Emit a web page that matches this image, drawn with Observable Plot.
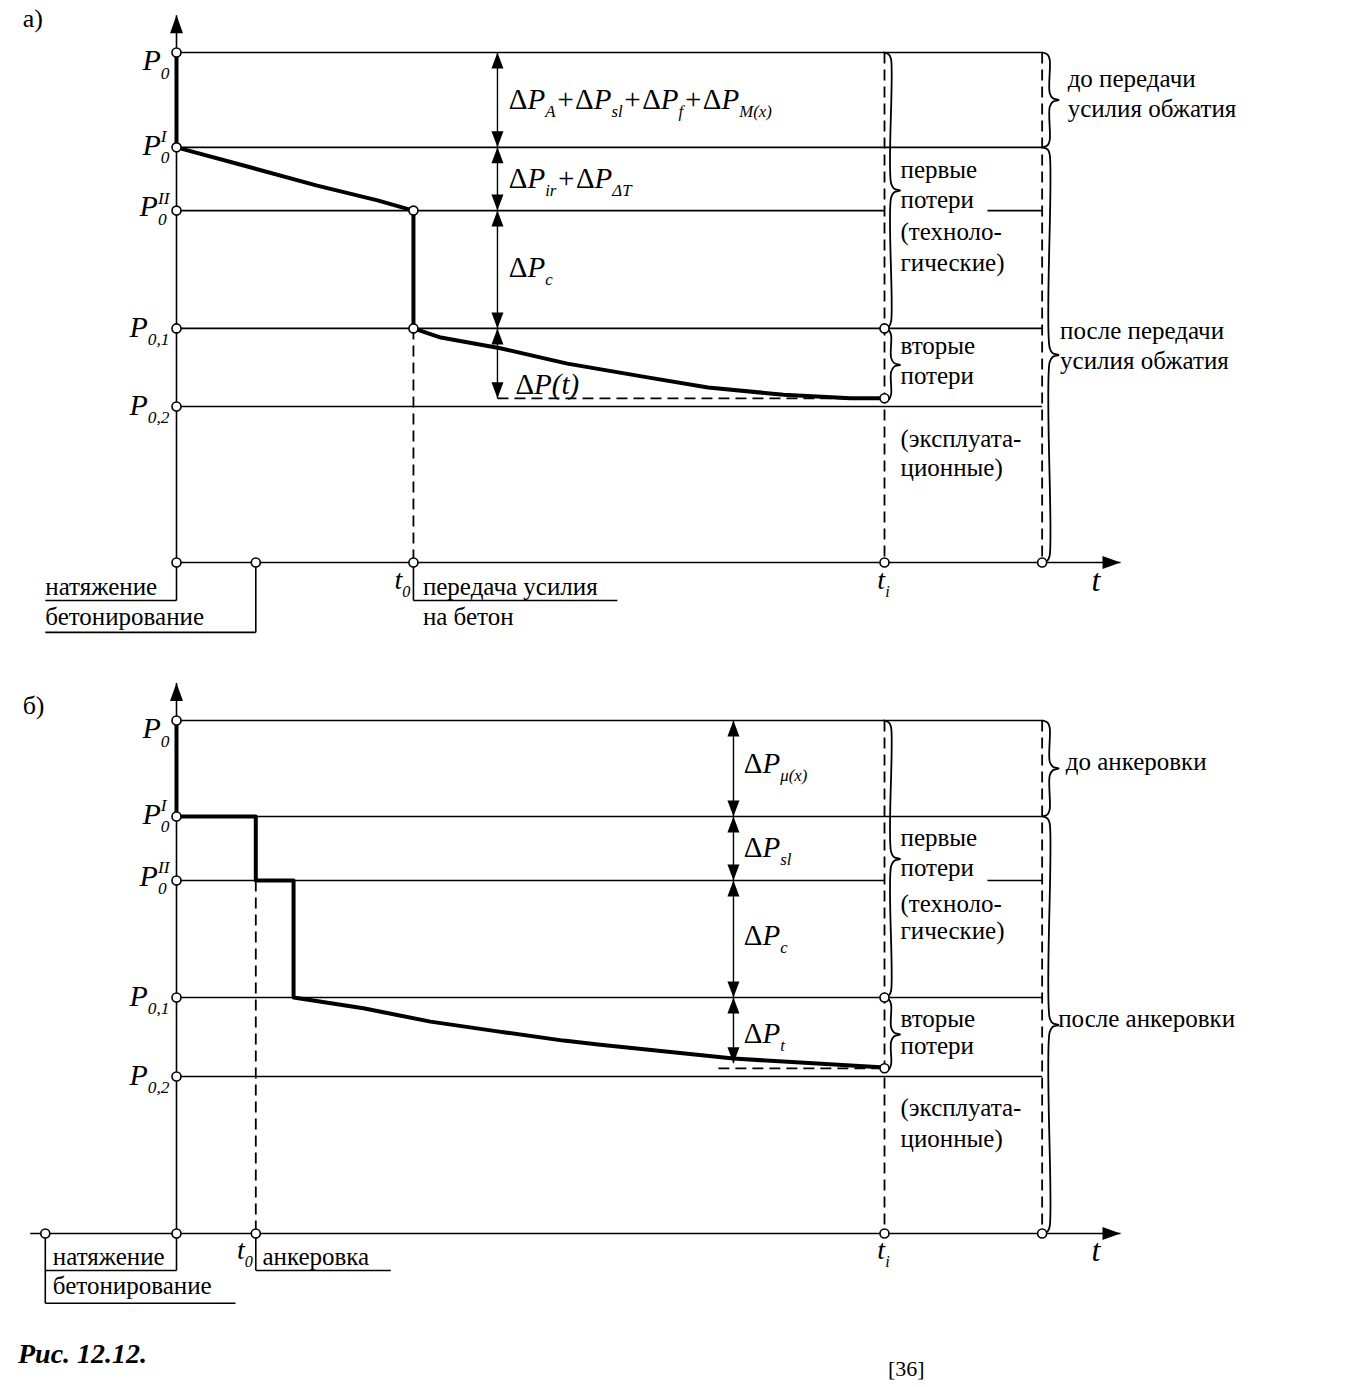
<!DOCTYPE html>
<html lang="ru">
<head>
<meta charset="utf-8">
<script src="https://cdn.jsdelivr.net/npm/d3@7"></script>
<script src="https://cdn.jsdelivr.net/npm/@observablehq/plot@0.6"></script>
<style>
  html,body{margin:0;padding:0;background:#fff;}
  #page{position:relative;width:1352px;height:1387px;overflow:hidden;background:#fff;font-family:"Liberation Serif","Times New Roman",serif;color:#000;}
  #panelA{position:absolute;left:0;top:0;}
  #panelB{position:absolute;left:0;top:650px;}
  #caption{position:absolute;left:18px;top:1338px;font-size:28px;font-weight:bold;font-style:italic;line-height:32px;}
  #source{position:absolute;left:888px;top:1356px;font-size:22px;line-height:26px;}
</style>
</head>
<body>
<div id="page">
  <div id="panelA"></div>
  <div id="panelB"></div>
  <div id="caption">Рис. 12.12.</div>
  <div id="source">[36]</div>
</div>
<script>
// ================= DATA =================
// time in arbitrary units (tensioning = 0, tip of the t-arrow = 100); force in % of P0
const levelLabels = ["P_{0}", "P_{0}^{I}", "P_{0}^{II}", "P_{0,1}", "P_{0,2}"];
const levelsA = [100, 81.4, 69.0, 45.9, 30.6];
const levelsB = [100, 81.3, 68.8, 46.0, 30.6];
const levelLabelYA = [98.4, 81.8, 69.8, 46.1, 30.8];
const levelLabelYB = [98.4, 81.7, 69.6, 46.2, 30.8];
const finalA = 32.2, finalB = 32.2;          // P at t_i

// events on the time axis
const t_i = 75, t_end = 91.7, t_arrow = 100;
const eventsA_t = [0, 8.4, 25.1];            // натяжение, бетонирование, t0 (передача усилия)
const eventsB_t = [-13.9, 0, 8.4];           // бетонирование, натяжение, t0 (анкеровка)
const tB_drop = 12.4;

// prestress curves
const curveA_t = [0, 0, 7.8, 14.9, 21.3, 25.1, 25.1, 28.0, 34.3, 41.4, 49.9, 56.3, 64.3, 71.4, 75.0];
const curveA_P = [100, 81.4, 77.5, 73.9, 71.0, 69.0, 45.9, 44.1, 42.0, 39.0, 36.3, 34.3, 32.9, 32.2, 32.2];
const curveB_t = [0, 0, 8.4, 8.4, 12.4, 12.4, 19.8, 26.9, 34.0, 41.0, 44.9, 59.0, 74.6, 75.0];
const curveB_P = [100, 81.3, 81.3, 68.8, 68.8, 46.0, 43.9, 41.3, 39.4, 37.6, 36.8, 34.1, 32.4, 32.2];

// loss dimension lines
const dimTimeA = 34.0, dimTimeB = 59.0;
const dimEndA = [100, 81.4, 69.0, 45.9, 32.2];
const dimEndB = [100, 81.3, 68.8, 46.0, 33.2];
const lossLabelsA = ["ΔP_{A}+ΔP_{sl}+ΔP_{f}+ΔP_{M(x)}", "ΔP_{ir}+ΔP_{ΔT}", "ΔP_{c}", "ΔP(t)"];
const lossLabelsB = ["ΔP_{μ(x)}", "ΔP_{sl}", "ΔP_{c}", "ΔP_{t}"];
const lossLabelYA = [90.8, 75.3, 57.8, 34.9];
const lossLabelYB = [91.6, 75.2, 58.1, 39.0];
const lossLabelTA = [35.2, 35.2, 35.2, 35.9];
const lossLabelTB = [60.1, 60.1, 60.1, 60.1];

// group texts
const groupText = ["первые","потери","(техноло-","гические)","вторые","потери","(эксплуата-","ционные)"];
const groupYA = [76.9, 71.0, 64.9, 58.8, 42.4, 36.5, 24.3, 18.6];
const groupYB = [77.0, 71.2, 64.3, 58.9, 41.9, 36.5, 24.4, 18.5];
const groupT = 76.7;
const stageTextA = ["до передачи","усилия обжатия","после передачи","усилия обжатия"];
const stageYA = [94.9, 89.0, 45.3, 39.6];
const stageTA = [94.4, 94.4, 93.6, 93.6];
const stageTextB = ["до анкеровки","после анкеровки"];
const stageYB = [92.0, 41.9];
const stageTB = [94.2, 93.4];

// event texts under the axis
const eventTextA = ["натяжение","бетонирование","передача усилия","на бетон"];
const eventTextTA = [-13.9, -13.9, 26.1, 26.1];
const eventTextYA = [-4.9, -10.6, -4.9, -10.6];
const eventTextB = ["натяжение","бетонирование","анкеровка"];
const eventTextTB = [-13.1, -13.1, 9.1];
const eventTextYB = [-4.5, -10.3, -4.5];

// leader boxes under the axis [t1, P1, t2, P2]
const boxesA = [[0,0,0,-7.45],[-13.9,-7.45,0,-7.45],[8.4,0,8.4,-13.7],[-13.9,-13.7,8.4,-13.7],[25.1,0,25.1,-7.45],[25.1,-7.45,46.7,-7.45]];
const boxesB = [[-13.9,0,-13.9,-13.6],[-13.9,-13.6,6.25,-13.6],[0,0,0,-7.2],[-13.9,-7.2,0,-7.2],[8.4,0,8.4,-7.2],[8.4,-7.2,22.7,-7.2]];

// ================= DRAWING =================
const FONT = "Liberation Serif";
const kx = 9.44; // px per time unit (for the size of brace curls only)
const arrowHead = {draw(ctx){ctx.moveTo(0,0);ctx.lineTo(-6,16);ctx.lineTo(6,16);ctx.closePath();}};
const axisHead = {draw(ctx){ctx.moveTo(0,0);ctx.lineTo(-6.5,18);ctx.lineTo(6.5,18);ctx.closePath();}};

function bracePts(bx, top, bot, id, ky){
  const cy = 7/ky, e = 7/kx, w = 9/kx, mid = (top+bot)/2;
  return [[bx-e,top],[bx-0.3*e,top-0.3*cy],[bx,top-cy],[bx,mid+cy],[bx+0.35*w,mid+0.25*cy],[bx+w,mid],
          [bx+0.35*w,mid-0.25*cy],[bx,mid-cy],[bx,bot+cy],[bx-0.3*e,bot+0.3*cy],[bx-e,bot]]
    .map(([t,P]) => ({t, P, id}));
}

function buildPanel(o){
  const L = o.levels;
  const segs = [];
  L.forEach((P,i) => {
    if (i === 2) { segs.push({x1:0,y1:P,x2:t_i,y2:P},{x1:85.9,y1:P,x2:t_end,y2:P}); }
    else segs.push({x1:0,y1:P,x2:t_end,y2:P});
  });
  segs.push({x1:0,y1:0,x2:0,y2:107.3});
  segs.push({x1:o.axisStart,y1:0,x2:t_arrow,y2:0});
  o.boxes.forEach(b => segs.push({x1:b[0],y1:b[1],x2:b[2],y2:b[3]}));
  const dashed = [
    {x1:t_i,y1:100,x2:t_i,y2:0},
    {x1:t_end,y1:100,x2:t_end,y2:0},
    {x1:o.t0,y1:o.t0Top,x2:o.t0,y2:0},
    {x1:o.dashStart,y1:o.fin,x2:t_i,y2:o.fin}
  ];
  const dims = o.dimEnd.slice(0,-1).map((P,i) => ({x1:o.dimT,y1:P,x2:o.dimT,y2:o.dimEnd[i+1]}));
  const headsUp = o.dimEnd.slice(0,-1).map(P => ({t:o.dimT,P}));
  const headsDown = o.dimEnd.slice(1).map(P => ({t:o.dimT,P}));
  const curve = o.curveT.map((t,i) => ({t, P:o.curveP[i]}));
  const braces = [
    ...bracePts(75.7, L[0], L[3], "b1", o.ky),
    ...bracePts(75.7, L[3], o.fin - 0.6, "b2", o.ky),
    ...bracePts(92.5, L[0], L[1], "b3", o.ky),
    ...bracePts(92.5, L[1], 0, "b4", o.ky)
  ];
  const levelText = L.map((P,i) => ({t:0, P:o.levelLabelY[i], s:levelLabels[i]}));
  const lossText = o.lossLabels.map((s,i) => ({s, t:o.lossT[i], P:o.lossY[i]}));
  const groupTxt = groupText.map((s,i) => ({s, t:groupT, P:o.groupY[i]}));
  const stageTxt = o.stageText.map((s,i) => ({s, t:o.stageT[i], P:o.stageY[i]}));
  const eventTxt = o.eventText.map((s,i) => ({s, t:o.eventT[i], P:o.eventY[i]}));

  return Plot.plot({
    width: 1352, height: o.height,
    x: {domain:[0,100], range:[176,1120], axis:null},
    y: {domain:[0,100], range:o.yRange, axis:null},
    style: {overflow:"visible", background:"transparent", fontFamily:FONT, color:"black"},
    marks: [
      Plot.link(segs, {x1:"x1",y1:"y1",x2:"x2",y2:"y2", stroke:"black", strokeWidth:1.6}),
      Plot.link(dashed, {x1:"x1",y1:"y1",x2:"x2",y2:"y2", stroke:"black", strokeWidth:1.8, strokeDasharray:"11,6"}),
      Plot.link(dims, {x1:"x1",y1:"y1",x2:"x2",y2:"y2", stroke:"black", strokeWidth:1.4}),
      Plot.line(braces, {x:"t", y:"P", z:"id", curve:"catmull-rom", stroke:"black", strokeWidth:1.8}),
      Plot.line(curve, {x:"t", y:"P", stroke:"black", strokeWidth:4, strokeLinejoin:"round"}),
      Plot.dot(headsUp, {x:"t", y:"P", symbol:arrowHead, fill:"black"}),
      Plot.dot(headsDown, {x:"t", y:"P", symbol:arrowHead, fill:"black", rotate:180}),
      Plot.dot([{t:0,P:107.3}], {x:"t", y:"P", symbol:axisHead, fill:"black"}),
      Plot.dot([{t:t_arrow,P:0}], {x:"t", y:"P", symbol:axisHead, fill:"black", rotate:90}),
      Plot.dot(o.circles, {x:"t", y:"P", r:4.5, fill:"white", stroke:"black", strokeWidth:1.6}),
      Plot.text(levelText, {x:"t", y:"P", text:"s", textAnchor:"end", dx:-7, fontSize:30, fontStyle:"italic", fontFamily:FONT}),
      Plot.text(lossText, {x:"t", y:"P", text:"s", textAnchor:"start", fontSize:29, fontStyle:"italic", fontFamily:FONT}),
      Plot.text(groupTxt, {x:"t", y:"P", text:"s", textAnchor:"start", fontSize:25, fontFamily:FONT}),
      Plot.text(stageTxt, {x:"t", y:"P", text:"s", textAnchor:"start", fontSize:25, fontFamily:FONT}),
      Plot.text(eventTxt, {x:"t", y:"P", text:"s", textAnchor:"start", fontSize:25, fontFamily:FONT}),
      Plot.text([{t:o.t0,P:o.tLabelY,s:"t_{0}"}], {x:"t", y:"P", text:"s", textAnchor:"end", dx:-3, fontSize:28, fontStyle:"italic", fontFamily:FONT}),
      Plot.text([{t:t_i,P:o.tLabelY,s:"t_{i}"}], {x:"t", y:"P", text:"s", textAnchor:"middle", dx:-1, fontSize:28, fontStyle:"italic", fontFamily:FONT}),
      Plot.text([{t:97.4,P:o.tLabelY,s:"t"}], {x:"t", y:"P", text:"s", textAnchor:"middle", fontSize:32, fontStyle:"italic", fontFamily:FONT}),
      Plot.text([{t:-16.3,P:o.panelLabelY,s:o.panelLabel}], {x:"t", y:"P", text:"s", textAnchor:"start", fontSize:26, fontFamily:FONT})
    ]
  });
}

function richify(root){
  const ns = "http://www.w3.org/2000/svg";
  root.querySelectorAll("text").forEach(el => {
    const s = el.textContent;
    if (!/[_^]\{|Δ/.test(s)) return;
    const fs = parseFloat(getComputedStyle(el).fontSize) || 28;
    el.textContent = "";
    const re = /([_^])\{([^}]*)\}|(Δ)|([^_^Δ]+)/g;
    let cur = 0, lastSub = null, m;
    while ((m = re.exec(s))) {
      const t = document.createElementNS(ns, "tspan");
      let target = 0;
      if (m[1]) {
        t.textContent = m[2];
        t.setAttribute("font-size", (fs*0.58).toFixed(1));
        target = m[1] === "_" ? fs*0.28 : -fs*0.42;
        if (m[1] === "^" && lastSub) t.setAttribute("dx", (-lastSub.getComputedTextLength()).toFixed(1));
      } else if (m[3]) {
        t.textContent = "Δ"; t.setAttribute("font-style", "normal");
      } else {
        t.textContent = m[4];
      }
      if (target !== cur) t.setAttribute("dy", (target - cur).toFixed(1));
      cur = target;
      el.appendChild(t);
      lastSub = m[1] === "_" ? t : null;
    }
  });
}

const circlesA = [
  ...levelsA.map(P => ({t:0,P})), {t:0,P:0}, {t:eventsA_t[1],P:0}, {t:eventsA_t[2],P:0},
  {t:eventsA_t[2],P:levelsA[2]}, {t:eventsA_t[2],P:levelsA[3]}, {t:t_i,P:levelsA[3]}, {t:t_i,P:finalA},
  {t:t_i,P:0}, {t:t_end,P:0}
];
const circlesB = [
  ...levelsB.map(P => ({t:0,P})), {t:0,P:0}, {t:eventsB_t[0],P:0}, {t:eventsB_t[2],P:0},
  {t:t_i,P:levelsB[3]}, {t:t_i,P:finalB}, {t:t_i,P:0}, {t:t_end,P:0}
];

const plotA = buildPanel({
  height: 650, yRange: [562, 52], ky: 5.1,
  levels: levelsA, levelLabelY: levelLabelYA, fin: finalA, axisStart: 0,
  boxes: boxesA, t0: eventsA_t[2], t0Top: levelsA[3], dashStart: dimTimeA,
  dimT: dimTimeA, dimEnd: dimEndA, curveT: curveA_t, curveP: curveA_P,
  lossLabels: lossLabelsA, lossT: lossLabelTA, lossY: lossLabelYA,
  groupY: groupYA, stageText: stageTextA, stageT: stageTA, stageY: stageYA,
  eventText: eventTextA, eventT: eventTextTA, eventY: eventTextYA,
  circles: circlesA, tLabelY: -3.5, panelLabel: "а)", panelLabelY: 106.6
});
const plotB = buildPanel({
  height: 670, yRange: [583, 70], ky: 5.13,
  levels: levelsB, levelLabelY: levelLabelYB, fin: finalB, axisStart: -15.5,
  boxes: boxesB, t0: eventsB_t[2], t0Top: levelsB[2], dashStart: 57.4,
  dimT: dimTimeB, dimEnd: dimEndB, curveT: curveB_t, curveP: curveB_P,
  lossLabels: lossLabelsB, lossT: lossLabelTB, lossY: lossLabelYB,
  groupY: groupYB, stageText: stageTextB, stageT: stageTB, stageY: stageYB,
  eventText: eventTextB, eventT: eventTextTB, eventY: eventTextYB,
  circles: circlesB, tLabelY: -3.3, panelLabel: "б)", panelLabelY: 102.9
});
document.getElementById("panelA").appendChild(plotA);
document.getElementById("panelB").appendChild(plotB);
richify(plotA);
richify(plotB);
</script>
</body>
</html>
